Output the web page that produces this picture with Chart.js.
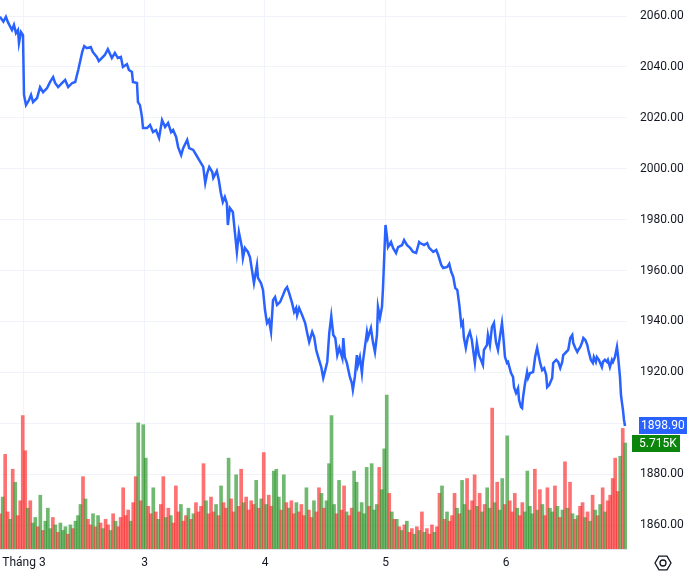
<!DOCTYPE html>
<html><head><meta charset="utf-8">
<script src="https://cdn.jsdelivr.net/npm/chart.js@4/dist/chart.umd.min.js"></script>
<style>html,body{margin:0;padding:0;background:#fff}#wrap{width:690px;height:574px}</style>
</head><body><div id="wrap"><canvas id="c" width="690" height="574"></canvas></div>
<script>
// hours from 2 March 00:00
const priceHours = [
-4.8,-4.1,-3.6,-3.2,-2.4,-2.0,-1.6,-1.2,-1.0,-0.6,-0.2,0.0,0.4,1.0,1.4,1.8,2.6,3.2,3.8,4.6,
5.2,5.8,6.2,6.8,7.6,8.2,8.8,9.6,10.2,10.8,11.6,12.0,12.5,13.3,13.7,14.5,14.9,
16.1,16.7,17.5,18.1,18.7,19.3,19.7,20.5,20.9,21.5,21.7,22.5,22.7,23.1,23.5,23.7,24.5,25.1,25.7,26.3,
26.9,27.5,28.1,28.7,29.3,29.7,30.3,30.7,31.3,31.7,32.5,32.9,33.7,34.3,34.9,
35.7,36.1,36.5,36.9,37.5,37.7,38.2,38.4,38.8,39.2,39.6,40.0,40.4,40.6,41.0,41.6,42.0,42.4,42.8,43.4,
43.6,44.0,44.6,45.0,45.4,45.8,46.4,46.6,47.2,47.6,48.0,48.4,48.8,49.2,49.6,50.0,50.4,51.0,51.6,52.0,
52.4,52.8,53.4,53.8,54.2,54.4,54.8,55.4,
56.0,56.4,56.8,57.4,57.8,58.2,58.6,59.2,59.6,60.0,60.4,60.8,61.2,61.6,62.0,62.4,62.8,63.4,63.6,63.9,
64.3,64.9,65.3,65.5,65.9,66.3,66.5,66.9,67.3,67.5,67.9,68.3,68.5,69.1,69.5,69.9,70.3,70.5,70.9,71.3,
71.5,71.7,72.0,72.3,72.5,73.1,73.5,74.1,74.5,75.3,75.7,76.3,76.9,77.5,78.1,78.7,
78.9,79.7,80.3,80.7,81.5,82.1,82.5,83.1,83.5,84.3,84.7,85.1,85.5,85.9,86.3,86.7,87.1,87.4,87.6,88.0,
88.4,88.8,89.2,89.4,89.8,90.2,90.6,91.0,91.4,91.6,92.2,92.4,92.8,93.2,93.6,94.0,94.4,94.6,95.2,95.4,
95.8,96.2,96.4,97.0,97.4,97.6,98.0,98.4,98.6,99.0,
99.2,99.4,99.8,100.2,100.4,100.8,101.4,101.8,102.2,102.4,102.8,103.2,103.6,104.0,104.2,104.6,105.2,105.4,106.0,106.4,
106.8,107.2,107.4,108.0,108.4,108.8,109.2,109.4,109.8,110.2,110.4,110.8,111.2,111.4,111.8,112.2,112.4,112.9,113.3,113.5,
113.9,114.1,114.5,115.1,115.3,115.7,116.1,116.3,116.7,117.1,117.3,117.7,118.1,118.3,118.7,118.9,119.1,119.3,119.5,119.7
];
const priceValues = [
2059.7,2057.8,2059.7,2057.6,2054.5,2056.5,2053.3,2054.5,2049.4,2053.7,2052.5,2029.0,2025.0,2027.0,2029.0,2026.2,2027.8,2032.1,2030.1,2031.7,
2034.1,2036.0,2033.7,2032.1,2033.7,2034.9,2032.1,2033.7,2034.1,2038.8,2045.9,2048.2,2047.4,2047.8,2045.9,2043.9,2042.3,
2044.7,2047.0,2043.5,2045.5,2043.5,2043.9,2040.0,2041.1,2038.8,2038.0,2034.1,2033.7,2026.2,2025.0,2020.3,2016.0,2016.0,2017.2,2014.4,2015.2,
2012.1,2019.1,2016.4,2018.0,2014.4,2015.2,2012.5,2008.5,2005.4,2008.1,2011.3,2008.1,2007.4,2005.4,2003.4,
2000.7,1994.4,1998.3,2000.7,1998.7,1996.4,1998.3,1999.1,1995.6,1990.5,1986.9,1988.9,1986.5,1977.9,1984.6,1983.0,1975.1,1967.3,1975.1,1969.2,
1964.9,1968.9,1967.3,1965.3,1960.2,1955.1,1962.2,1957.1,1955.1,1952.4,1944.5,1939.4,1940.6,1935.9,1948.4,1949.6,1946.5,1947.6,1950.4,1952.4,
1953.5,1951.2,1947.2,1943.7,1945.3,1942.5,1945.3,1942.5,
1939.4,1935.5,1931.9,1935.9,1933.9,1928.8,1926.0,1922.1,1917.8,1920.9,1924.1,1935.5,1942.1,1934.7,1933.5,1926.8,1929.6,1925.6,1933.5,1926.0,
1923.7,1918.2,1915.8,1913.1,1918.2,1926.8,1922.9,1926.0,1919.7,1924.1,1930.0,1935.9,1933.5,1937.4,1931.9,1928.0,1934.7,1945.7,1941.4,1945.7,
1953.1,1963.0,1977.9,1973.2,1969.2,1971.2,1968.9,1966.9,1969.2,1970.0,1972.0,1970.0,1968.9,1967.3,1966.9,1971.2,
1970.8,1970.0,1970.8,1968.9,1967.3,1968.1,1966.1,1962.2,1961.0,1961.4,1962.6,1959.4,1957.5,1953.1,1952.4,1946.5,1938.6,1939.8,1933.9,1929.6,
1933.9,1935.9,1932.7,1929.6,1923.7,1931.5,1926.8,1924.9,1922.9,1928.8,1930.7,1934.7,1930.7,1937.8,1939.4,1931.9,1928.8,1931.5,1939.4,1935.5,
1926.0,1923.7,1924.1,1919.7,1918.2,1914.2,1911.9,1913.8,1909.1,1906.4,
1906.0,1910.3,1915.8,1920.1,1917.8,1919.7,1920.1,1926.0,1929.6,1927.6,1923.7,1920.9,1921.7,1919.0,1914.2,1915.0,1917.8,1923.7,1924.9,1924.1,
1921.7,1924.1,1926.8,1928.0,1928.8,1933.5,1934.7,1931.5,1929.6,1928.0,1928.8,1930.0,1932.0,1933.5,1932.7,1930.7,1928.8,1924.9,1923.7,1926.0,
1924.1,1926.0,1924.9,1922.1,1924.1,1924.9,1924.1,1924.9,1922.1,1924.9,1924.1,1926.0,1930.0,1926.8,1918.2,1911.1,1908.0,1905.2,1901.3,1898.9
];
// volume bars (thousands), one per half hour starting at volStartHour
const volStartHour = -4.75;
const volStepHour = 0.5;
const volumes = [
1.9,2.8,5.1,2.0,1.6,4.3,3.6,1.8,2.6,7.2,
5.3,2.2,2.6,1.4,1.7,1.2,2.9,1.0,1.5,2.2,
1.1,1.7,1.3,0.9,1.4,1.0,1.2,0.8,1.3,1.1,
1.5,1.8,2.4,3.9,2.7,1.6,1.3,1.9,1.2,1.8,
1.4,1.1,1.6,1.3,1.0,1.9,1.5,1.2,1.7,3.3,
1.8,2.1,1.5,2.5,3.9,6.8,2.6,6.7,4.9,2.3,
1.9,3.3,2.0,1.6,2.4,3.9,1.7,2.2,1.8,1.4,
3.4,2.0,2.4,1.5,1.8,2.2,1.6,1.9,2.5,2.0,
2.3,4.6,2.6,1.9,2.8,2.0,2.4,1.8,3.4,2.5,
2.2,4.9,2.7,2.0,4.0,2.3,4.3,2.5,2.8,2.1,
2.6,2.4,3.7,2.2,2.7,5.2,2.4,2.9,2.3,4.2,
4.3,2.8,2.1,4.0,2.5,2.2,2.6,1.9,2.5,2.0,
2.4,1.8,3.3,2.1,1.7,2.6,2.0,3.3,3.0,2.2,
2.6,4.6,7.2,2.4,1.9,3.7,2.1,3.4,2.0,1.8,
2.2,4.2,3.6,2.0,2.5,1.9,4.4,2.3,4.6,2.1,
2.4,4.4,3.2,5.4,8.3,3.0,2.0,1.6,1.6,1.2,
1.0,1.3,1.5,0.9,1.1,0.8,1.2,1.0,2.0,0.9,
1.1,0.8,1.3,0.9,1.2,3.0,3.4,1.6,2.0,1.5,
1.8,3.0,2.2,1.9,3.7,2.4,3.8,2.1,2.6,4.0,
2.3,3.0,2.0,2.4,3.3,2.2,7.6,2.5,3.6,2.1,
3.8,2.4,6.1,2.6,2.0,3.0,2.2,1.8,2.5,2.0,
4.2,2.3,1.9,4.3,2.1,3.2,2.4,1.8,3.3,2.2,
2.0,3.4,2.3,1.7,2.1,4.7,2.2,3.6,1.9,1.6,
1.8,2.3,2.5,1.7,2.0,1.5,2.9,2.1,1.8,2.4,
3.3,2.0,2.6,2.9,3.8,4.9,3.1,5.0,6.5,5.715
];
const volDirections = [
"rgrrgrgrrr","rgrggrgrgg","grgrgggrgr","gggrgrrgrg","rgrrgrgrrr",
"rrgrrgrggr","rgrgrrgrgr","rrgrrgrgrr","rrgrrrgrgr","rgrrgrrgrr",
"rrgrgrgrrg","ggrgrgrrgr","rrgrrgrrgr","ggggrgrrgr","rggrgggrgg",
"grgggrgrgr","grgrrgrgrg","rrrgrrgrgr","rrgrggrgrr","grgrggrgrg",
"grgrrrgrrg","gggrgrgrrg","grgrgrgrgr","grrgrgrgrg","rgrrrrrgrg"
].join("");
const yTicks = [1860,1880,1900,1920,1940,1960,1980,2000,2020,2040,2060];
const yTickLabels = yTicks.filter(v => v !== 1900).map(v => v.toFixed(2));
const xTickHours = [0,24,48,72,96];
const xTickLabels = ["Tháng 3","3","4","5","6"];

const UP = "rgba(45,150,45,0.68)", DOWN = "rgba(250,45,45,0.68)";
const priceData = priceHours.map((h,i)=>({x:h,y:priceValues[i]}));
const volData = volumes.map((v,i)=>({x:volStartHour+volStepHour*i,y:v}));
const volCols = volumes.map((v,i)=> volDirections[i]==='g'?UP:DOWN);
const lastPrice = priceValues[priceValues.length-1];
const lastVol = volumes[volumes.length-1];
const FONT = {family:"Roboto, 'Liberation Sans', sans-serif", size:12};

const overlay = {
  id:'overlay',
  afterDraw(chart){
    const ctx = chart.ctx, y = chart.scales.y, yv = chart.scales.yv;
    const ca = chart.chartArea;
    ctx.save();
    // price label
    const py = y.getPixelForValue(lastPrice);
    ctx.fillStyle = '#2962ff';
    ctx.fillRect(ca.right+12, Math.round(py)-9, 48, 17);
    ctx.fillStyle = '#fff';
    ctx.font = "12px Roboto, 'Liberation Sans', sans-serif";
    ctx.textBaseline = 'middle'; ctx.textAlign='left';
    ctx.fillText(lastPrice.toFixed(2), ca.right+14, Math.round(py));
    // volume label
    const vy = yv.getPixelForValue(lastVol);
    ctx.fillStyle = '#0b850b';
    ctx.fillRect(ca.right+5, Math.round(vy)-8, 48, 17);
    ctx.fillStyle = '#fff';
    ctx.fillText(lastVol.toFixed(3)+'K', ca.right+12, Math.round(vy)+1);
    // settings icon
    const cx = 663, cy = 563, r = 8;
    ctx.strokeStyle = '#131722'; ctx.lineWidth = 1.3;
    ctx.beginPath();
    for(let k=0;k<6;k++){const a=Math.PI/3*k; const px=cx+r*Math.cos(a), pyy=cy+r*Math.sin(a); k?ctx.lineTo(px,pyy):ctx.moveTo(px,pyy);}
    ctx.closePath(); ctx.stroke();
    ctx.beginPath(); ctx.arc(cx,cy,3,0,Math.PI*2); ctx.stroke();
    ctx.restore();
  }
};

new Chart(document.getElementById('c'), {
  type:'bar',
  data:{datasets:[
    {type:'line', data:priceData, yAxisID:'y', borderColor:'#2962ff', borderWidth:2.5, pointRadius:0, tension:0, order:0},
    {type:'bar', data:volData, yAxisID:'yv', backgroundColor:volCols, borderWidth:0, barThickness:3, order:1}
  ]},
  options:{
    responsive:false, animation:false, devicePixelRatio:1,
    layout:{padding:0, autoPadding:false},
    plugins:{legend:{display:false}, tooltip:{enabled:false}},
    scales:{
      x:{type:'linear', min:-4.78, max:120.1, offset:false,
        grid:{color:'#f0f3fa', drawTicks:false, offset:false},
        border:{display:true, color:'#e0e3eb'},
        afterBuildTicks(s){ s.ticks = xTickHours.map(v=>({value:v})); },
        afterFit(s){ s.height = 25; s.paddingLeft = 0; s.paddingRight = 0; },
        ticks:{color:'#131722', font:FONT, padding:7, maxRotation:0, autoSkip:false,
          callback:(v,i)=>xTickLabels[i]}
      },
      y:{type:'linear', position:'right', min:1850.6, max:2066.3,
        grid:{color:'#f0f3fa', drawTicks:false},
        border:{display:false},
        afterBuildTicks(s){ s.ticks = yTicks.map(v=>({value:v})); },
        afterFit(s){ s.width = 63; s.paddingTop = 0; s.paddingBottom = 0; },
        ticks:{color:'#131722', font:FONT, padding:13, autoSkip:false,
          callback:(v)=> yTickLabels.includes(v.toFixed(2)) ? v.toFixed(2) : ''}
      },
      yv:{type:'linear', display:false, min:0, max:29.6, position:'left'}
    }
  },
  plugins:[overlay]
});
</script></body></html>
